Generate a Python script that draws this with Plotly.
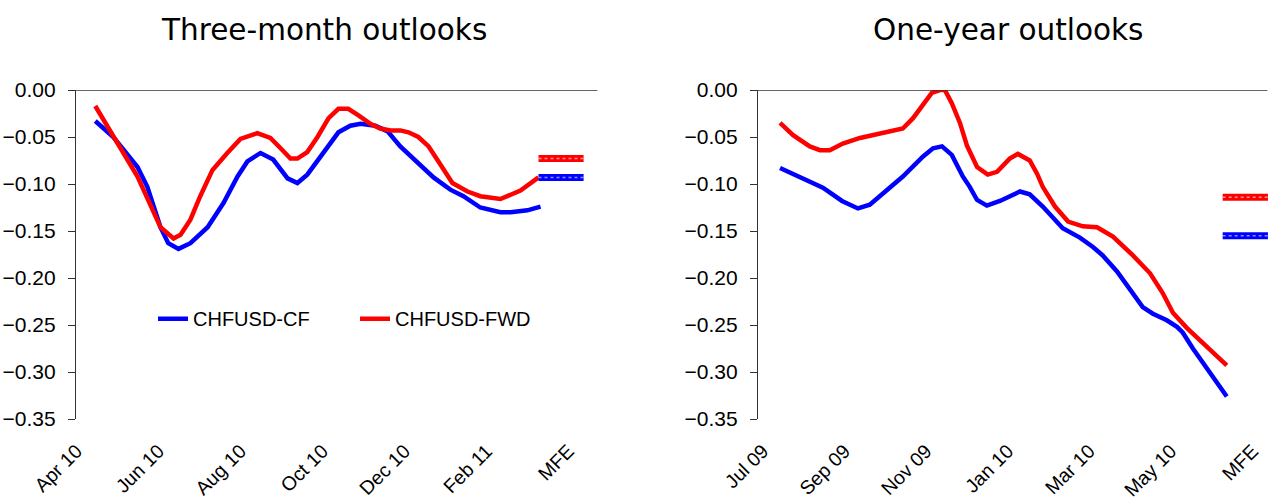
import plotly.graph_objects as go
from plotly.subplots import make_subplots

# Three-month outlooks, x = months after Apr 10
tm_ticks = ["Apr 10", "Jun 10", "Aug 10", "Oct 10", "Dec 10", "Feb 11", "MFE"]
tm_cf_x = [0.46, 0.90, 1.49, 1.73, 2.05, 2.24, 2.49, 2.78, 3.20, 3.59, 3.93, 4.17, 4.49, 4.80,
           5.15, 5.39, 5.63, 5.90, 6.15, 6.39, 6.68, 6.93, 7.29, 7.59, 7.90, 8.32, 8.71, 9.12,
           9.44, 9.85, 10.34, 10.59, 11.00, 11.32]
tm_cf = [-0.033, -0.050, -0.082, -0.103, -0.146, -0.163, -0.169, -0.163, -0.146, -0.120, -0.092,
         -0.076, -0.067, -0.074, -0.094, -0.099, -0.090, -0.074, -0.059, -0.045, -0.038, -0.036,
         -0.038, -0.044, -0.060, -0.077, -0.093, -0.106, -0.113, -0.125, -0.130, -0.130, -0.128,
         -0.124]
tm_fwd_x = [0.46, 0.90, 1.49, 2.05, 2.37, 2.54, 2.78, 3.02, 3.32, 3.68, 4.00, 4.41, 4.73, 4.98,
            5.22, 5.39, 5.63, 5.88, 6.15, 6.39, 6.63, 6.88, 7.17, 7.41, 7.66, 7.90, 8.10, 8.34,
            8.59, 8.83, 9.17, 9.54, 9.85, 10.34, 10.83, 11.27]
tm_fwd = [-0.017, -0.050, -0.092, -0.146, -0.158, -0.154, -0.138, -0.113, -0.085, -0.067, -0.052,
          -0.046, -0.051, -0.062, -0.073, -0.073, -0.066, -0.050, -0.030, -0.020, -0.020, -0.027,
          -0.036, -0.041, -0.043, -0.043, -0.045, -0.050, -0.060, -0.076, -0.099, -0.108, -0.113,
          -0.116, -0.107, -0.093]
tm_mfe_x = [11.27, 12.37]
tm_mfe_cf = -0.093
tm_mfe_fwd = -0.073

# One-year outlooks, x = months after Jul 09
oy_ticks = ["Jul 09", "Sep 09", "Nov 09", "Jan 10", "Mar 10", "May 10", "MFE"]
oy_cf_x = [0.42, 0.91, 1.47, 1.94, 2.33, 2.62, 3.04, 3.43, 3.92, 4.17, 4.39, 4.63, 4.90, 5.07,
           5.25, 5.49, 5.81, 6.05, 6.30, 6.54, 6.86, 7.35, 7.77, 8.09, 8.33, 8.68, 9.07, 9.31,
           9.56, 9.90, 10.15, 10.29, 10.54, 10.96, 11.37]
oy_cf = [-0.083, -0.093, -0.104, -0.118, -0.126, -0.122, -0.106, -0.092, -0.071, -0.062, -0.060,
         -0.069, -0.092, -0.103, -0.117, -0.123, -0.118, -0.113, -0.108, -0.111, -0.124, -0.147,
         -0.157, -0.167, -0.176, -0.193, -0.216, -0.231, -0.238, -0.245, -0.252, -0.258, -0.275,
         -0.301, -0.326]
oy_fwd_x = [0.42, 0.74, 1.15, 1.40, 1.64, 1.96, 2.38, 2.79, 3.19, 3.43, 3.68, 3.92, 4.14, 4.34,
            4.46, 4.63, 4.83, 5.00, 5.25, 5.51, 5.74, 6.05, 6.25, 6.54, 6.72, 6.86, 7.16, 7.48,
            7.84, 8.19, 8.58, 9.07, 9.49, 9.80, 10.05, 10.39, 10.88, 11.37]
oy_fwd = [-0.035, -0.048, -0.060, -0.064, -0.064, -0.057, -0.051, -0.047, -0.044, -0.041, -0.030,
          -0.016, -0.003, 0.000, 0.000, -0.014, -0.035, -0.059, -0.082, -0.090, -0.087, -0.073,
          -0.068, -0.075, -0.089, -0.103, -0.124, -0.140, -0.145, -0.146, -0.156, -0.176, -0.195,
          -0.216, -0.237, -0.253, -0.273, -0.293]
oy_mfe_x = [11.27, 12.38]
oy_mfe_cf = -0.155
oy_mfe_fwd = -0.114

y_ticks = [0, -0.05, -0.1, -0.15, -0.2, -0.25, -0.3, -0.35]

BLUE = "#0000ff"
RED = "#ff0000"
AXIS = "#333333"
FONT = "Liberation Sans, Arial, sans-serif"
TITLE_FONT = "DejaVu Sans, Verdana, sans-serif"

W, H = 1271, 502
PT, PB = 90, 419.5  # plot top / bottom in pixels


def fx(px):
    return px / W


def fy(py):
    return (PB - py) / (PB - PT)


fig = make_subplots(rows=1, cols=2)

panels = [
    (1, tm_cf_x, tm_cf, tm_fwd_x, tm_fwd, tm_mfe_x, tm_mfe_cf, tm_mfe_fwd),
    (2, oy_cf_x, oy_cf, oy_fwd_x, oy_fwd, oy_mfe_x, oy_mfe_cf, oy_mfe_fwd),
]
for col, cfx, cf, fwx, fw, mx, mcf, mfw in panels:
    fig.add_trace(go.Scatter(x=cfx, y=cf, mode="lines", name="CHFUSD-CF",
                             line=dict(color=BLUE, width=4.5), showlegend=(col == 1)),
                  row=1, col=col)
    fig.add_trace(go.Scatter(x=fwx, y=fw, mode="lines", name="CHFUSD-FWD",
                             line=dict(color=RED, width=4.5), showlegend=(col == 1)),
                  row=1, col=col)
    # MFE markers: short thick patterned dashes
    for val, c in [(mcf, BLUE), (mfw, RED)]:
        fig.add_trace(go.Scatter(x=mx, y=[val, val], mode="lines",
                                 line=dict(color=c, width=7), showlegend=False,
                                 hoverinfo="skip"), row=1, col=col)
        fig.add_trace(go.Scatter(x=mx, y=[val, val], mode="lines",
                                 line=dict(color="rgba(255,255,255,0.55)", width=1.5, dash="dot"),
                                 showlegend=False, hoverinfo="skip"), row=1, col=col)

fig.update_xaxes(showgrid=False, zeroline=False, showline=False, ticks="",
                 tickangle=-45, tickfont=dict(family=FONT, size=19.5, color="black"),
                 ticklabelstandoff=16, automargin=False,
                 tickvals=[0, 2, 4, 6, 8, 10, 12])
fig.update_xaxes(domain=[fx(76), fx(600)], range=[-0.01, 12.77], ticktext=tm_ticks, row=1, col=1)
fig.update_xaxes(domain=[fx(758), fx(1270)], range=[-0.12, 12.43], ticktext=oy_ticks, row=1, col=2)

fig.update_yaxes(range=[-0.35, 0.0], tickvals=y_ticks, tickformat=".2f",
                 showgrid=False, zeroline=False, showline=True,
                 linecolor=AXIS, linewidth=1.2, ticks="outside", ticklen=7,
                 tickcolor=AXIS, tickwidth=1.2, ticklabelstandoff=8,
                 tickfont=dict(family=FONT, size=21, color="black"), automargin=False)

# horizontal axis crosses at zero, i.e. along the top edge
for xr, yr in [("x domain", "y"), ("x2 domain", "y2")]:
    fig.add_shape(type="line", xref=xr, x0=0, x1=0.995, yref=yr, y0=0, y1=0,
                  line=dict(color=AXIS, width=1.5))

for txt, cx in [("Three-month outlooks", 324), ("One-year outlooks", 1008)]:
    fig.add_annotation(text=txt, x=fx(cx), y=fy(30), xref="paper", yref="paper",
                       xanchor="center", yanchor="middle", showarrow=False,
                       font=dict(family=TITLE_FONT, size=29.5, color="black"))

fig.update_layout(
    width=W, height=H,
    margin=dict(l=0, r=0, t=PT, b=H - PB),
    plot_bgcolor="white", paper_bgcolor="white",
    showlegend=True,
    legend=dict(orientation="h", x=fx(153), y=fy(319), xanchor="left", yanchor="middle",
                font=dict(family=FONT, size=20, color="black"), bgcolor="rgba(0,0,0,0)",
                entrywidth=157, itemwidth=30),
)

# drop the default body margin so the figure fills the window exactly
fig.write_html("out.html", config={"displayModeBar": False},
               post_script="document.body.style.margin = '0px';")
